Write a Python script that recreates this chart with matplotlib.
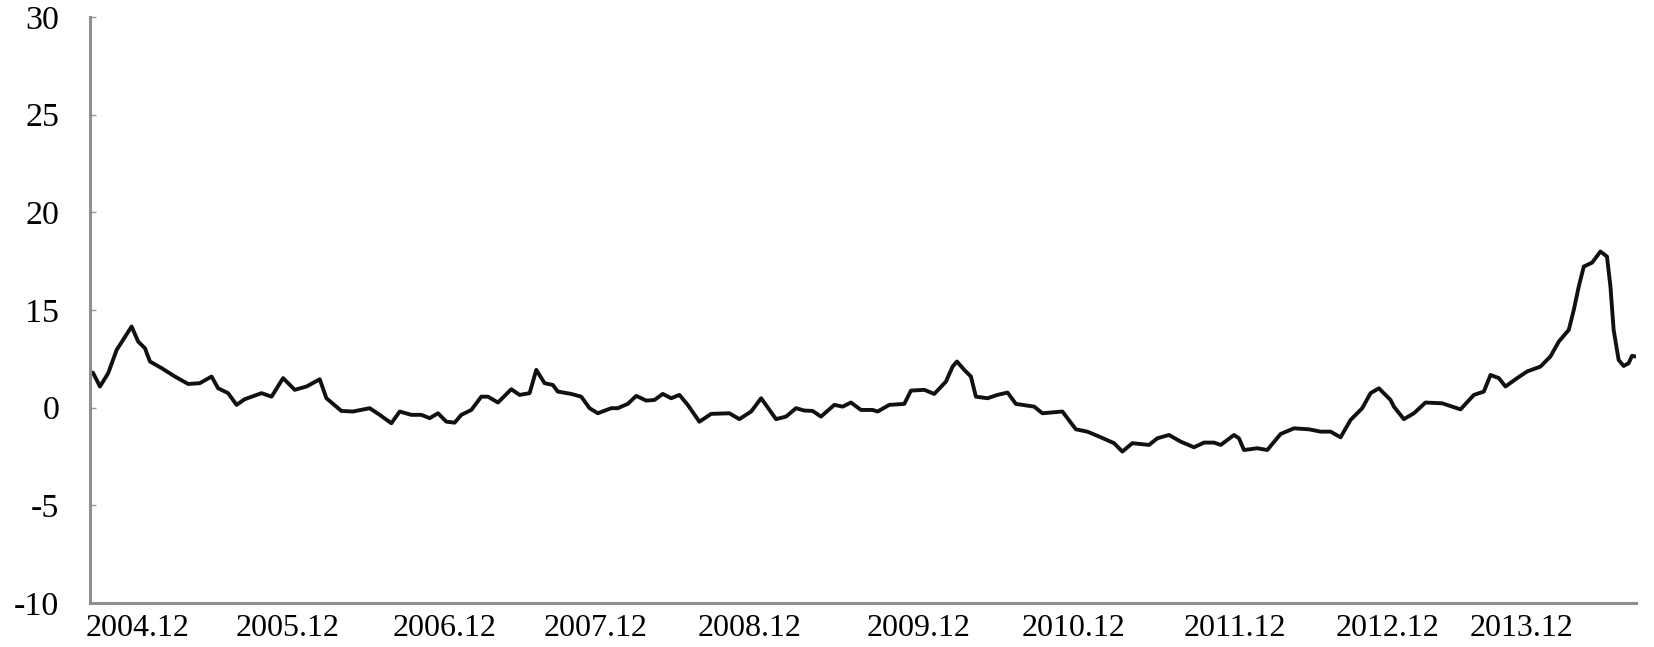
import matplotlib
matplotlib.use("Agg")
import matplotlib.pyplot as plt
import numpy as np

# months counted from 2004.12
month = [
    -3.74, -3.51, -2.96, -2.32, -1.66, -1.15, -0.49, 0.02, 0.55, 0.94,
    1.85, 2.89, 3.92, 4.83, 5.75, 6.26, 7.04, 7.70, 8.34, 9.65,
    10.43, 11.33, 12.24, 13.16, 14.19, 14.71, 15.88, 16.79, 17.18, 18.09,
    18.87, 19.78, 20.43, 21.34, 22.12, 22.77, 23.42, 24.07, 24.72, 25.24,
    26.02, 26.80, 27.32, 28.10, 29.14, 29.79, 30.57, 31.09, 31.74, 32.38,
    32.77, 33.82, 34.60, 35.25, 35.89, 36.94, 37.45, 38.23, 38.89, 39.67,
    40.31, 40.96, 41.62, 42.26, 42.91, 43.82, 44.74, 46.16, 46.94, 47.86,
    48.64, 49.80, 50.58, 51.36, 52.01, 52.66, 53.31, 54.35, 55.00, 55.65,
    56.43, 57.34, 57.73, 58.64, 59.81, 60.33, 61.37, 62.15, 63.06, 63.58,
    63.92, 64.49, 65.01, 65.40, 66.31, 67.08, 67.87, 68.52, 69.95, 70.59,
    72.15, 73.20, 74.10, 75.15, 76.18, 76.83, 77.61, 78.91, 79.56, 80.47,
    81.38, 82.42, 83.20, 83.98, 84.51, 85.54, 85.93, 86.32, 87.36, 88.14,
    89.18, 90.22, 91.39, 92.30, 93.08, 93.86, 94.64, 95.55, 96.20, 96.85,
    97.76, 98.02, 98.80, 99.58, 100.49, 101.79, 103.22, 104.26, 105.04, 105.56,
    106.21, 106.73, 107.64, 108.42, 109.46, 110.24, 110.89, 111.67, 112.06, 112.45,
    112.84, 113.49, 114.14, 114.65, 114.92, 115.17, 115.56, 115.95, 116.34, 116.60,
    116.86,
]
value = [
    11.76, 11.79, 11.08, 11.76, 12.95, 13.47, 14.15, 13.38, 13.04, 12.36,
    12.02, 11.59, 11.21, 11.25, 11.59, 10.99, 10.74, 10.14, 10.43, 10.74,
    10.56, 11.51, 10.91, 11.08, 11.45, 10.48, 9.83, 9.80, 9.85, 9.97,
    9.63, 9.20, 9.80, 9.63, 9.63, 9.46, 9.71, 9.28, 9.23, 9.63,
    9.88, 10.56, 10.56, 10.26, 10.94, 10.65, 10.74, 11.93, 11.25, 11.16,
    10.82, 10.70, 10.56, 9.97, 9.71, 9.97, 9.97, 10.19, 10.60, 10.36,
    10.39, 10.70, 10.48, 10.65, 10.14, 9.28, 9.68, 9.71, 9.41, 9.80,
    10.48, 9.41, 9.54, 9.97, 9.85, 9.83, 9.54, 10.14, 10.05, 10.26,
    9.88, 9.88, 9.80, 10.14, 10.19, 10.87, 10.91, 10.70, 11.33, 12.10,
    12.36, 11.93, 11.59, 10.56, 10.48, 10.65, 10.77, 10.19, 10.05, 9.71,
    9.80, 8.89, 8.77, 8.48, 8.18, 7.75, 8.18, 8.09, 8.43, 8.60,
    8.26, 7.97, 8.21, 8.21, 8.09, 8.60, 8.43, 7.83, 7.92, 7.83,
    8.65, 8.94, 8.89, 8.77, 8.77, 8.48, 9.37, 9.97, 10.74, 10.99,
    10.39, 10.05, 9.41, 9.71, 10.26, 10.22, 9.91, 10.65, 10.82, 11.67,
    11.51, 11.08, 11.51, 11.85, 12.10, 12.62, 13.38, 13.98, 15.00, 16.20,
    17.22, 17.42, 17.99, 17.73, 16.20, 13.98, 12.44, 12.13, 12.27, 12.65,
    12.62,
]

x_tick_pos = [0, 11.7, 23.9, 35.7, 47.7, 60.9, 73.0, 85.6, 97.5, 108.0]
x_tick_labels = ["2004.12", "2005.12", "2006.12", "2007.12", "2008.12",
                 "2009.12", "2010.12", "2011.12", "2012.12", "2013.12"]
y_tick_pos = [0, 5, 10, 15, 20, 25, 30]
y_tick_labels = ["-10", "-5", "0", "15", "20", "25", "30"]

plt.rcParams["font.family"] = ["Liberation Serif", "DejaVu Serif"]

fig = plt.figure(figsize=(16.54, 6.47), dpi=100)
ax = fig.add_axes([0.0544, 0.068, 0.9346, 0.906])

ax.plot(month, value, color="#111111", lw=2.8, solid_joinstyle="round")

ax.set_xlim(-3.74, 116.9)
ax.set_ylim(0, 30)

ax.set_xticks(x_tick_pos)
ax.set_xticklabels(x_tick_labels, fontsize=23)
ax.set_yticks(y_tick_pos)
ax.set_yticklabels(y_tick_labels, fontsize=24.5)
ax.tick_params(axis="x", length=0, pad=8)
ax.tick_params(axis="y", direction="in", length=4, width=1, color="#999999", pad=22)

for side in ["top", "right"]:
    ax.spines[side].set_visible(False)
for side in ["left", "bottom"]:
    ax.spines[side].set_color("#8f8f8f")
    ax.spines[side].set_linewidth(2.2)

fig.savefig("out.png", dpi=100)
